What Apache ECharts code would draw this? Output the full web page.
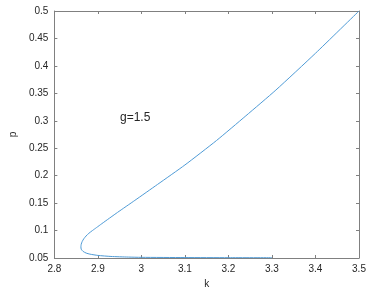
<!DOCTYPE html>
<html>
<head>
<meta charset="utf-8">
<script src="https://cdn.jsdelivr.net/npm/echarts@6/dist/echarts.min.js"></script>
<style>html,body{margin:0;padding:0;background:#fff}#c{width:373px;height:294px}</style>
</head>
<body>
<div id="c"></div>
<script>
// curve traced from the lower end (k=3.3) round the nose to the top (k=3.5)
var kValues = [3.3, 3.2, 3.1, 3.0, 2.97, 2.93, 2.9, 2.882, 2.873, 2.866, 2.8617, 2.861, 2.8617, 2.8639, 2.8676, 2.8727, 2.8793, 2.8874, 2.897, 2.909, 2.945, 2.985, 3.037, 3.1, 3.1725, 3.24, 3.309, 3.4, 3.5];
var pValues = [0.0505, 0.0506, 0.0508, 0.0512, 0.0517, 0.0528, 0.0547, 0.057, 0.059, 0.062, 0.066, 0.0705, 0.075, 0.08, 0.085, 0.09, 0.095, 0.1, 0.1055, 0.1125, 0.133, 0.155, 0.184, 0.2195, 0.264, 0.309, 0.356, 0.423, 0.5];
var xTicks = {min: 2.8, max: 3.5, interval: 0.1};
var yTicks = {min: 0.05, max: 0.5, interval: 0.05};
var annotation = 'g=1.5';

var font = '"Liberation Sans", Arial, sans-serif';
var axisColor = '#808080';
var textColor = '#262626';
var data = kValues.map(function (k, i) { return [k, pValues[i]]; });

function fmt(v) { return String(Math.round(v * 1000) / 1000); }

var chart = echarts.init(document.getElementById('c'), null, {renderer: 'canvas'});
chart.setOption({
  animation: false,
  backgroundColor: '#fff',
  grid: {left: 43, right: 14, top: 11, bottom: 36, containLabel: false},
  xAxis: [{
    type: 'value', min: xTicks.min, max: xTicks.max, interval: xTicks.interval, position: 'bottom',
    name: 'k', nameLocation: 'middle', nameGap: 20,
    nameTextStyle: {color: textColor, fontFamily: font, fontSize: 10},
    axisLine: {show: true, lineStyle: {color: axisColor, width: 1}},
    axisTick: {show: true, inside: true, length: 3, lineStyle: {color: axisColor}},
    axisLabel: {color: textColor, fontFamily: font, fontSize: 10, margin: 6, formatter: fmt},
    splitLine: {show: false}
  }, {
    type: 'value', min: xTicks.min, max: xTicks.max, interval: xTicks.interval, position: 'top',
    axisLine: {show: true, lineStyle: {color: axisColor, width: 1}},
    axisTick: {show: true, inside: true, length: 3, lineStyle: {color: axisColor}},
    axisLabel: {show: false}, splitLine: {show: false}
  }],
  yAxis: [{
    type: 'value', min: yTicks.min, max: yTicks.max, interval: yTicks.interval, position: 'left',
    name: 'p', nameLocation: 'middle', nameGap: 26,
    nameTextStyle: {color: textColor, fontFamily: font, fontSize: 10},
    axisLine: {show: true, lineStyle: {color: axisColor, width: 1}},
    axisTick: {show: true, inside: true, length: 3, lineStyle: {color: axisColor}},
    axisLabel: {color: textColor, fontFamily: font, fontSize: 10, margin: 6, formatter: fmt},
    splitLine: {show: false}
  }, {
    type: 'value', min: yTicks.min, max: yTicks.max, interval: yTicks.interval, position: 'right',
    axisLine: {show: true, lineStyle: {color: axisColor, width: 1}},
    axisTick: {show: true, inside: true, length: 3, lineStyle: {color: axisColor}},
    axisLabel: {show: false}, splitLine: {show: false}
  }],
  series: [{
    type: 'line', xAxisIndex: 0, yAxisIndex: 0, data: data,
    showSymbol: false, smooth: 0.2,
    lineStyle: {color: '#4f9bd6', width: 1}
  }],
  graphic: [{
    type: 'text', left: 120, top: 112,
    style: {text: annotation, fill: textColor, font: '12px ' + font}
  }]
});
</script>
</body>
</html>
